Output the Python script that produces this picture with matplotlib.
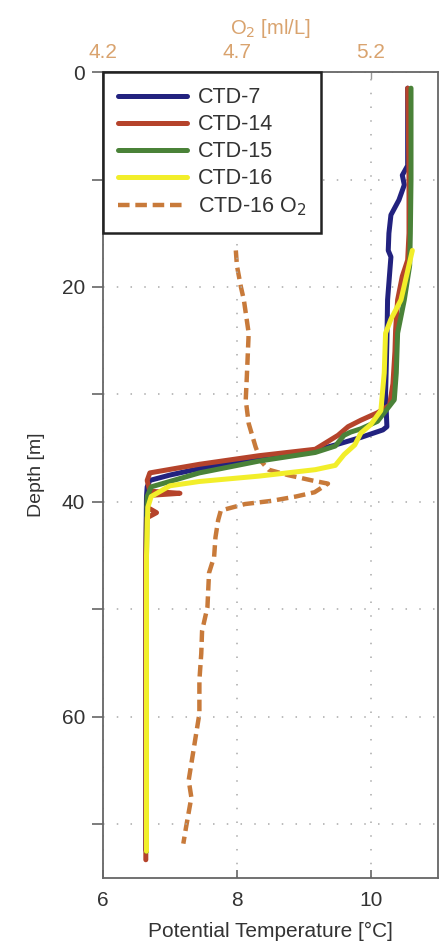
import matplotlib
matplotlib.use('Agg')
import matplotlib.pyplot as plt

plt.rcParams['font.family'] = ['Liberation Sans', 'DejaVu Sans']

# CTD casts: potential temperature [°C] vs depth [m]
ctd7_depth = [1.5, 5, 8.7, 9.6, 10.5, 11.9, 13.3, 15, 16.6, 17.2, 21.2, 25, 30, 33.0, 33.3, 34.0, 34.7, 35.2,
              35.9, 36.9, 37.5, 38.0, 38.6, 39.5, 45, 55, 65, 72.4]
ctd7_temp = [10.55, 10.55, 10.55, 10.47, 10.5, 10.42, 10.3, 10.27, 10.26, 10.3, 10.25, 10.24, 10.22, 10.24,
             10.18, 9.85, 9.47, 9.17, 8.33, 7.44, 7.0, 6.7, 6.66, 6.65, 6.64, 6.64, 6.64, 6.64]

ctd14_depth = [1.5, 5, 10, 15, 17.5, 19, 21.2, 24, 26, 29, 31.0, 31.7, 32.4, 33.0, 33.8, 35.1, 35.7, 36.5,
               37.3, 38.0, 39.0, 39.2, 39.4, 40.5, 41.0, 41.5, 45, 55, 65, 73.3]
ctd14_temp = [10.55, 10.56, 10.57, 10.57, 10.55, 10.47, 10.4, 10.37, 10.36, 10.33, 10.28, 10.1, 9.85, 9.66,
              9.51, 9.17, 8.33, 7.44, 6.7, 6.66, 6.7, 7.15, 6.68, 6.66, 6.8, 6.65, 6.64, 6.64, 6.64, 6.64]

ctd15_depth = [1.5, 5, 10, 15, 18, 21.2, 24.3, 28, 30.5, 32.5, 33.2, 33.5, 33.8, 34.8, 35.4, 36.2, 37.3,
               38.6, 39.5, 45, 55, 65, 72.5]
ctd15_temp = [10.6, 10.6, 10.6, 10.59, 10.58, 10.5, 10.4, 10.38, 10.35, 10.1, 9.85, 9.7, 9.6, 9.47, 9.17,
              8.33, 7.44, 6.72, 6.66, 6.65, 6.65, 6.65, 6.65]

ctd16_depth = [16.6, 18.5, 21.2, 23, 24.3, 28, 31.5, 32.8, 33.6, 34.7, 35.6, 36.6, 37.0, 37.6, 38.1, 38.5,
               39.5, 40.5, 45, 55, 65, 72.5]
ctd16_temp = [10.62, 10.55, 10.45, 10.3, 10.22, 10.2, 10.15, 10.0, 9.85, 9.76, 9.6, 9.47, 9.17, 8.33, 7.44,
              7.0, 6.72, 6.67, 6.65, 6.65, 6.65, 6.65]

# CTD-16 dissolved oxygen [ml/L]
o2_depth = [16.6, 18, 20, 21.2, 24.3, 28.4, 30.5, 32.7, 34.9, 36.2, 37.0, 37.5, 38.0, 38.3, 39.1, 39.5,
            39.9, 40.2, 40.8, 41.7, 43.3, 45.1, 46.6, 49.8, 52, 54.1, 56.6, 59.7, 62.8, 65.9, 67.5, 70.3, 71.8]
o2_val = [4.696, 4.70, 4.715, 4.726, 4.744, 4.737, 4.733, 4.744, 4.77, 4.79, 4.818, 4.89, 4.98, 5.04, 4.99,
          4.92, 4.83, 4.73, 4.64, 4.63, 4.62, 4.615, 4.596, 4.59, 4.57, 4.567, 4.56, 4.56, 4.54, 4.52, 4.53,
          4.51, 4.50]

depth_ticks = [0, 10, 20, 30, 40, 50, 60, 70]
depth_labels = ['0', '', '20', '', '40', '', '60', '']
temp_ticks = [6, 8, 10]
o2_ticks = [4.2, 4.7, 5.2]

o2_color = '#c87a3a'
o2_text = '#d9a36e'
text_col = '#333333'

fig = plt.figure(figsize=(4.4, 9.48), dpi=100)
ax = fig.add_axes([0.234, 0.0738, 0.761, 0.8502])
ax2 = ax.twiny()
ax.set_zorder(ax2.get_zorder() + 1)
ax.patch.set_visible(False)

l1, = ax.plot(ctd7_temp, ctd7_depth, color='#22227f', lw=3.6, label='CTD-7', solid_capstyle='round')
l2, = ax.plot(ctd14_temp, ctd14_depth, color='#b5432b', lw=3.6, label='CTD-14', solid_capstyle='round')
l3, = ax.plot(ctd15_temp, ctd15_depth, color='#4a8238', lw=3.6, label='CTD-15', solid_capstyle='round')
l4, = ax.plot(ctd16_temp, ctd16_depth, color='#f2ee2a', lw=3.6, label='CTD-16', solid_capstyle='round')
l5, = ax2.plot(o2_val, o2_depth, color=o2_color, lw=3.2, dashes=(2.6, 1.3), label='CTD-16 O$_2$')

ax.set_xlim(6, 11)
ax.set_ylim(75, 0)
ax2.set_xlim(4.2, 5.45)

ax.set_yticks(depth_ticks)
ax.set_yticklabels(depth_labels)
ax.set_xticks(temp_ticks)
ax.set_xticklabels([str(t) for t in temp_ticks])
ax.tick_params(axis='y', direction='out', length=8, width=1.2, color='#666666', labelsize=15,
               labelcolor=text_col, pad=5)
ax.tick_params(axis='x', direction='in', length=6, width=1.2, color='#666666', labelsize=15,
               labelcolor=text_col, pad=9)

ax2.set_xticks(o2_ticks)
ax2.set_xticklabels([str(t) for t in o2_ticks])
ax2.tick_params(axis='x', direction='in', length=5, width=1.0, color='#999999', labelsize=15,
                labelcolor=o2_text, pad=7)
for s in ax2.spines.values():
    s.set_visible(False)

for s in ax.spines.values():
    s.set_color('#666666')
    s.set_linewidth(1.3)

ax.grid(True, color='#aaaaaa', lw=1.1, linestyle=(0, (1, 8)))

ax.set_xlabel('Potential Temperature [°C]', fontsize=15, color=text_col, labelpad=9)
ax.set_ylabel('Depth [m]', fontsize=14, color=text_col, labelpad=12)
ax2.set_xlabel('O$_2$ [ml/L]', fontsize=14.5, color=o2_text, labelpad=7)

leg = ax.legend(handles=[l1, l2, l3, l4, l5], loc='upper left', bbox_to_anchor=(0, 1), borderaxespad=0,
                fontsize=15.5, handlelength=3.2, labelspacing=0.28, handletextpad=0.5, borderpad=0.7,
                fancybox=False, framealpha=1)
leg.get_frame().set_edgecolor('#222222')
leg.get_frame().set_linewidth(1.8)
for t in leg.get_texts():
    t.set_color(text_col)

fig.savefig('out.png', dpi=100)
